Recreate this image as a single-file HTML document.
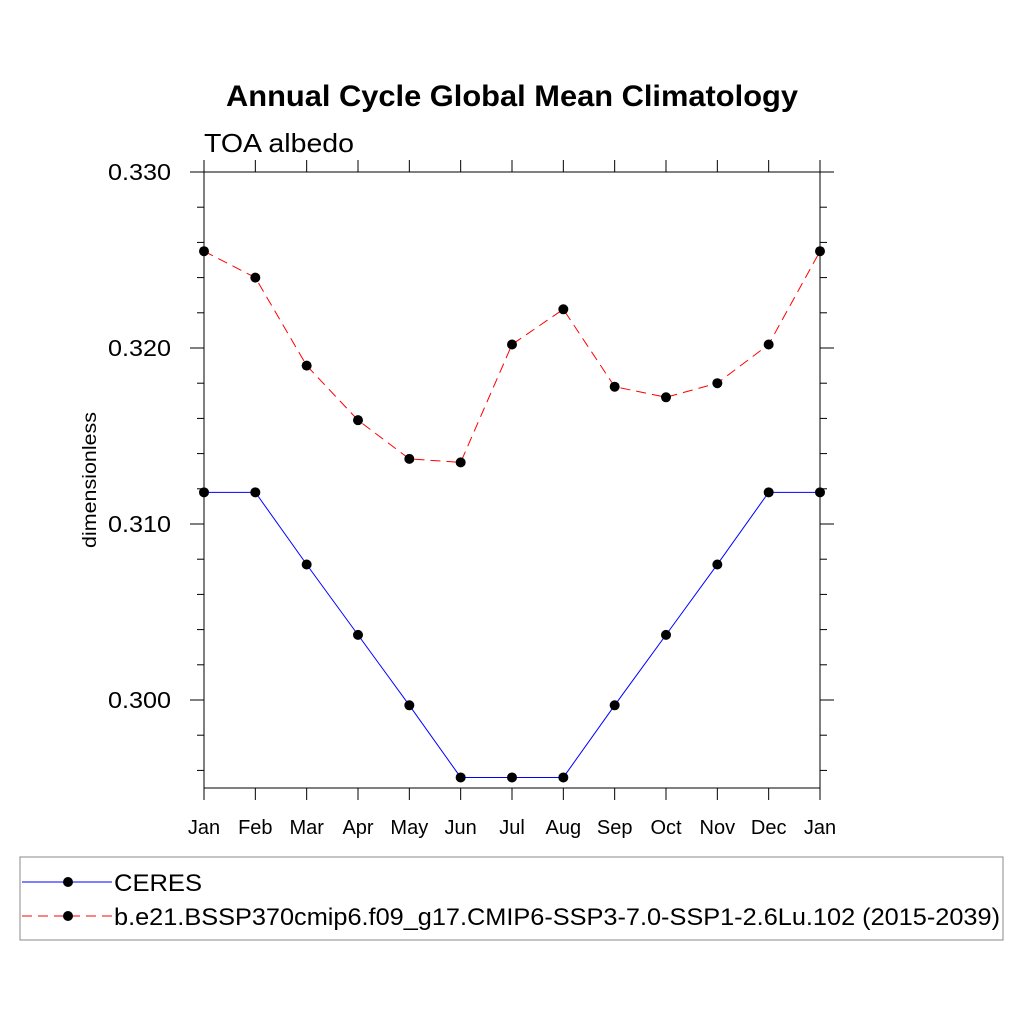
<!DOCTYPE html>
<html><head><meta charset="utf-8"><style>
body{margin:0;background:#fff}
svg{display:block;font-family:"Liberation Sans",sans-serif}
</style></head><body>
<svg id="chart" width="1024" height="1024" xmlns="http://www.w3.org/2000/svg">
<rect width="1024" height="1024" fill="#fff"/>
<text x="512" y="106" text-anchor="middle" font-size="30" font-weight="bold" textLength="572" lengthAdjust="spacingAndGlyphs">Annual Cycle Global Mean Climatology</text>
<text x="204" y="152" font-size="26" textLength="150" lengthAdjust="spacingAndGlyphs">TOA albedo</text>
<text transform="translate(96,480) rotate(-90)" text-anchor="middle" font-size="19" textLength="136" lengthAdjust="spacingAndGlyphs">dimensionless</text>
<g id="axes"></g>
<g id="series"></g>
<rect x="20" y="857" width="983" height="83" fill="none" stroke="#888" stroke-width="1"/>
<g>
<line x1="22" y1="882" x2="112" y2="882" stroke="#00f" stroke-width="1"/>
<circle cx="68" cy="882" r="5" fill="#000"/>
<text x="114" y="891" font-size="24" textLength="88" lengthAdjust="spacingAndGlyphs">CERES</text>
</g>
<g>
<line x1="22" y1="916" x2="112" y2="916" stroke="#f00" stroke-width="1" stroke-dasharray="10,6"/>
<circle cx="68" cy="916" r="5" fill="#000"/>
<text x="114" y="925" font-size="24" textLength="886" lengthAdjust="spacingAndGlyphs">b.e21.BSSP370cmip6.f09_g17.CMIP6-SSP3-7.0-SSP1-2.6Lu.102 (2015-2039)</text>
</g>
</svg>
<script>
const months=["Jan","Feb","Mar","Apr","May","Jun","Jul","Aug","Sep","Oct","Nov","Dec","Jan"];
const ceres=[0.3118,0.3118,0.3077,0.3037,0.2997,0.2956,0.2956,0.2956,0.2997,0.3037,0.3077,0.3118,0.3118];
const model=[0.3255,0.3240,0.3190,0.3159,0.3137,0.3135,0.3202,0.3222,0.3178,0.3172,0.3180,0.3202,0.3255];
const yTicks=["0.300","0.310","0.320","0.330"];
const L=204,R=820,T=172,B=788,yMin=0.295,yMax=0.330;
const xs=i=>L+(R-L)*i/12;
const ys=v=>B-(v-yMin)/(yMax-yMin)*(B-T);
const NS="http://www.w3.org/2000/svg";
function mk(t,a,p){const e=document.createElementNS(NS,t);for(const k in a)e.setAttribute(k,a[k]);p.appendChild(e);return e;}
const ax=document.getElementById('axes');
const frame=mk('rect',{x:L,y:T,width:R-L,height:B-T,fill:'none',stroke:'#000','stroke-width':1},ax);


for(let i=0;i<13;i++){const x=xs(i);
mk('line',{x1:x,y1:B,x2:x,y2:B+12,stroke:'#000'},ax);
mk('line',{x1:x,y1:T,x2:x,y2:T-12,stroke:'#000'},ax);
const t=mk('text',{x:x,y:B+46,'text-anchor':'middle','font-size':20},ax);t.textContent=months[i];

}
for(let k=0;k<=17;k++){const v=0.296+k*0.002;const y=ys(v);const maj=Math.abs((v*1000)%10)<0.01||Math.abs((v*1000)%10-10)<0.01;
const len=maj?14:7;
mk('line',{x1:L,y1:y,x2:L-len,y2:y,stroke:'#000'},ax);
mk('line',{x1:R,y1:y,x2:R+len,y2:y,stroke:'#000'},ax);}
yTicks.forEach(s=>{const y=ys(parseFloat(s));const t=mk('text',{x:171,y:y+8,'text-anchor':'end','font-size':23,textLength:63,lengthAdjust:'spacingAndGlyphs'},ax);t.textContent=s;

});
const sg=document.getElementById('series');
function series(data,color,dash,name){
const pl=mk('polyline',{points:data.map((v,i)=>xs(i)+','+ys(v)).join(' '),fill:'none',stroke:color,'stroke-width':1,'stroke-dasharray':dash},sg);


data.forEach((v,i)=>{const c=mk('circle',{cx:xs(i),cy:ys(v),r:5,fill:'#000'},sg);

});}
series(ceres,'#00f','none','ceres');
series(model,'#f00','10,6','model');
</script>
</body></html>
